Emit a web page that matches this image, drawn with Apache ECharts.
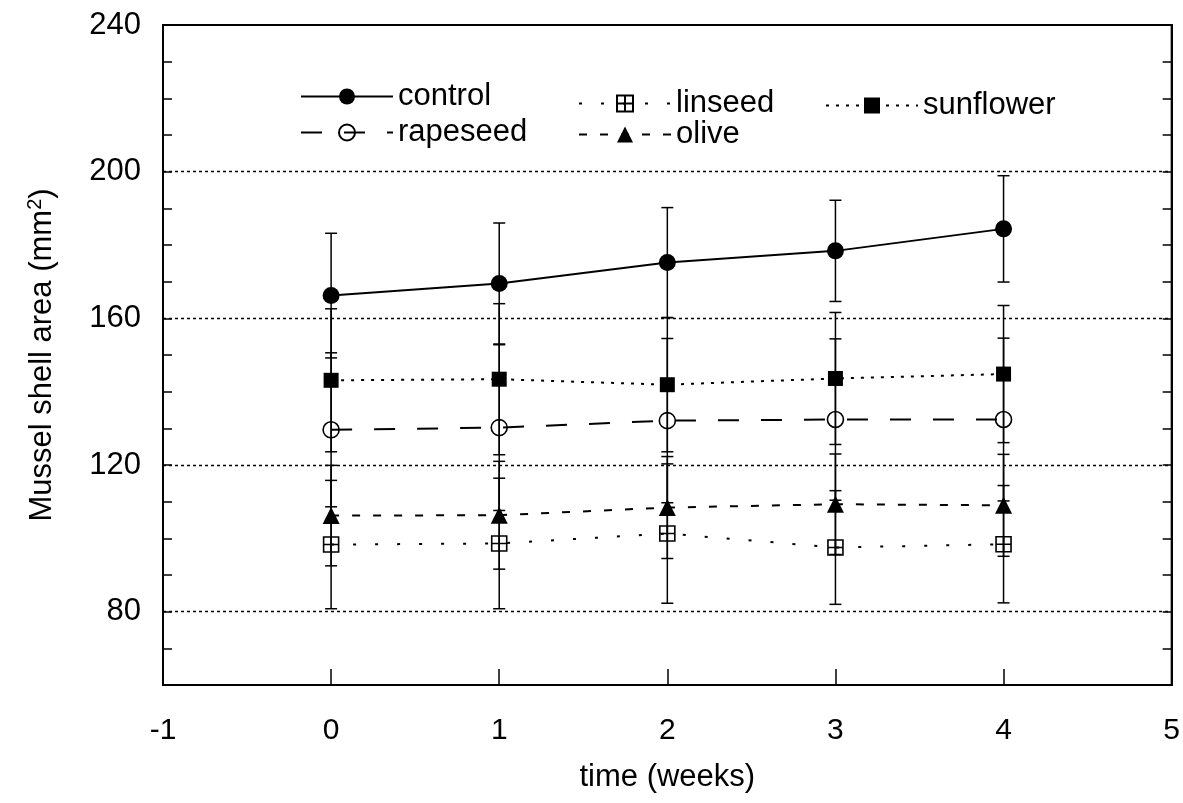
<!DOCTYPE html>
<html>
<head>
<meta charset="utf-8">
<style>
  html, body { margin: 0; padding: 0; background: #fff; }
  #chart { width: 1183px; height: 803px; }
</style>
<script src="https://cdn.jsdelivr.net/npm/echarts@6/dist/echarts.min.js"></script>
</head>
<body>
<div id="chart"></div>
<script>
// time points (weeks)
const weeks = [0, 1, 2, 3, 4]

// mean shell area and error (mm2)
const controlMean = [166.2, 169.5, 175.2, 178.4, 184.4]
const controlErr = [17.0, 16.5, 15.0, 13.8, 14.5]
const sunflowerMean = [143.1, 143.4, 141.9, 143.6, 144.8]
const sunflowerErr = [19.5, 20.6, 18.3, 18.0, 18.7]
const rapeseedMean = [129.6, 130.2, 132.1, 132.4, 132.4]
const rapeseedErr = [21.0, 22.6, 22.4, 22.0, 22.2]
const oliveMean = [106.2, 106.3, 108.4, 109.3, 109.0]
const oliveErr = [13.7, 14.7, 13.9, 13.7, 13.9]
const linseedMean = [98.3, 98.6, 101.3, 97.5, 98.4]
const linseedErr = [17.5, 17.8, 19.0, 15.5, 16.0]

// dotted reference lines and labelled y ticks
const gridValues = [80, 120, 160, 200]
const yLabelStep = 40

const INK = '#000'
const FONT = '"Liberation Sans", Arial, Helvetica, sans-serif'
const squareCross = 'path://M0,0H10V10H0Z M5,0V10 M0,5H10'

const groups = [
  { name: 'control', mean: controlMean, err: controlErr, symbol: 'circle', size: 17, fill: INK, dash: 'solid', legend: { left: 295, top: 76 } },
  { name: 'rapeseed', mean: rapeseedMean, err: rapeseedErr, symbol: 'circle', size: 16, fill: 'rgba(0,0,0,0)', dash: [21, 22], legend: { left: 295, top: 112 } },
  { name: 'linseed', mean: linseedMean, err: linseedErr, symbol: squareCross, size: 15, fill: 'rgba(0,0,0,0)', dash: [3, 19], legend: { left: 573, top: 83 } },
  { name: 'olive', mean: oliveMean, err: oliveErr, symbol: 'triangle', size: 17, fill: INK, dash: [8, 13], legend: { left: 573, top: 114 } },
  { name: 'sunflower', mean: sunflowerMean, err: sunflowerErr, symbol: 'rect', size: 15, fill: INK, dash: [3, 7], legend: { left: 820, top: 85 } }
]

const errorBarItem = (params, api) => {
  const x = api.value(0)
  const lo = api.coord([x, api.value(1)])
  const hi = api.coord([x, api.value(2)])
  const half = 6
  const style = { stroke: INK, lineWidth: 1.5 }
  return {
    type: 'group',
    children: [
      { type: 'line', shape: { x1: lo[0], y1: lo[1], x2: hi[0], y2: hi[1] }, style },
      { type: 'line', shape: { x1: hi[0] - half, y1: hi[1], x2: hi[0] + half, y2: hi[1] }, style },
      { type: 'line', shape: { x1: lo[0] - half, y1: lo[1], x2: lo[0] + half, y2: lo[1] }, style }
    ]
  }
}

const errorSeries = groups.map((g) => ({
  type: 'custom',
  name: g.name + ' error',
  silent: true,
  z: 1,
  renderItem: errorBarItem,
  encode: { x: 0, y: [1, 2] },
  data: weeks.map((w, i) => [w, g.mean[i] - g.err[i], g.mean[i] + g.err[i]])
}))

const lineSeries = groups.map((g, idx) => ({
  type: 'line',
  name: g.name,
  z: 3,
  data: weeks.map((w, i) => [w, g.mean[i]]),
  symbol: g.symbol,
  symbolSize: g.size,
  showAllSymbol: true,
  lineStyle: { color: INK, width: 2, type: g.dash },
  itemStyle: { color: g.fill, borderColor: INK, borderWidth: g.fill === INK ? 0 : 1.6 },
  emphasis: { disabled: true },
  markLine: idx === 0
    ? {
        silent: true,
        symbol: ['none', 'none'],
        label: { show: false },
        lineStyle: { color: INK, width: 1.4, type: [3, 3] },
        data: gridValues.map((v) => ({ yAxis: v }))
      }
    : undefined
}))

const legends = groups.map((g) => ({
  data: [g.name],
  left: g.legend.left,
  top: g.legend.top,
  itemWidth: 92,
  itemHeight: 20,
  selectedMode: false,
  textStyle: { color: INK, fontSize: 31, fontFamily: FONT }
}))

const yAxisBase = {
  type: 'value',
  min: 60,
  max: 240,
  interval: 10,
  axisLine: { show: true, onZero: false, lineStyle: { color: INK, width: 2 } },
  axisTick: { show: true, inside: true, length: 9, lineStyle: { color: INK, width: 1.5 } },
  splitLine: { show: false }
}

const chart = echarts.init(document.getElementById('chart'))
chart.setOption({
  animation: false,
  backgroundColor: '#fff',
  grid: { left: 163, right: 8, top: 25, bottom: 118, show: true, borderColor: INK, borderWidth: 2 },
  legend: legends,
  xAxis: {
    type: 'value',
    min: -1,
    max: 5,
    interval: 1,
    name: 'time (weeks)',
    nameLocation: 'middle',
    nameGap: 77,
    nameTextStyle: { color: INK, fontSize: 31, fontFamily: FONT },
    axisLine: { show: true, onZero: false, lineStyle: { color: INK, width: 2 } },
    axisTick: { show: true, inside: true, length: 16, lineStyle: { color: INK, width: 1.5 } },
    axisLabel: { color: INK, fontSize: 30, fontFamily: FONT, margin: 31 },
    splitLine: { show: false }
  },
  yAxis: [
    {
      ...yAxisBase,
      position: 'left',
      name: 'Mussel shell area (mm{sup|2})',
      nameLocation: 'middle',
      nameGap: 104,
      nameTextStyle: {
        color: INK,
        fontSize: 31,
        fontFamily: FONT,
        rich: { sup: { fontSize: 20, verticalAlign: 'top', padding: [0, 0, 14, 0], color: INK, fontFamily: FONT } }
      },
      axisLabel: {
        color: INK,
        fontSize: 31,
        fontFamily: FONT,
        margin: 22,
        formatter: (v) => (v % yLabelStep === 0 ? String(v) : '')
      }
    },
    {
      ...yAxisBase,
      position: 'right',
      axisLabel: { show: false }
    }
  ],
  series: [...errorSeries, ...lineSeries]
})
</script>
</body>
</html>
